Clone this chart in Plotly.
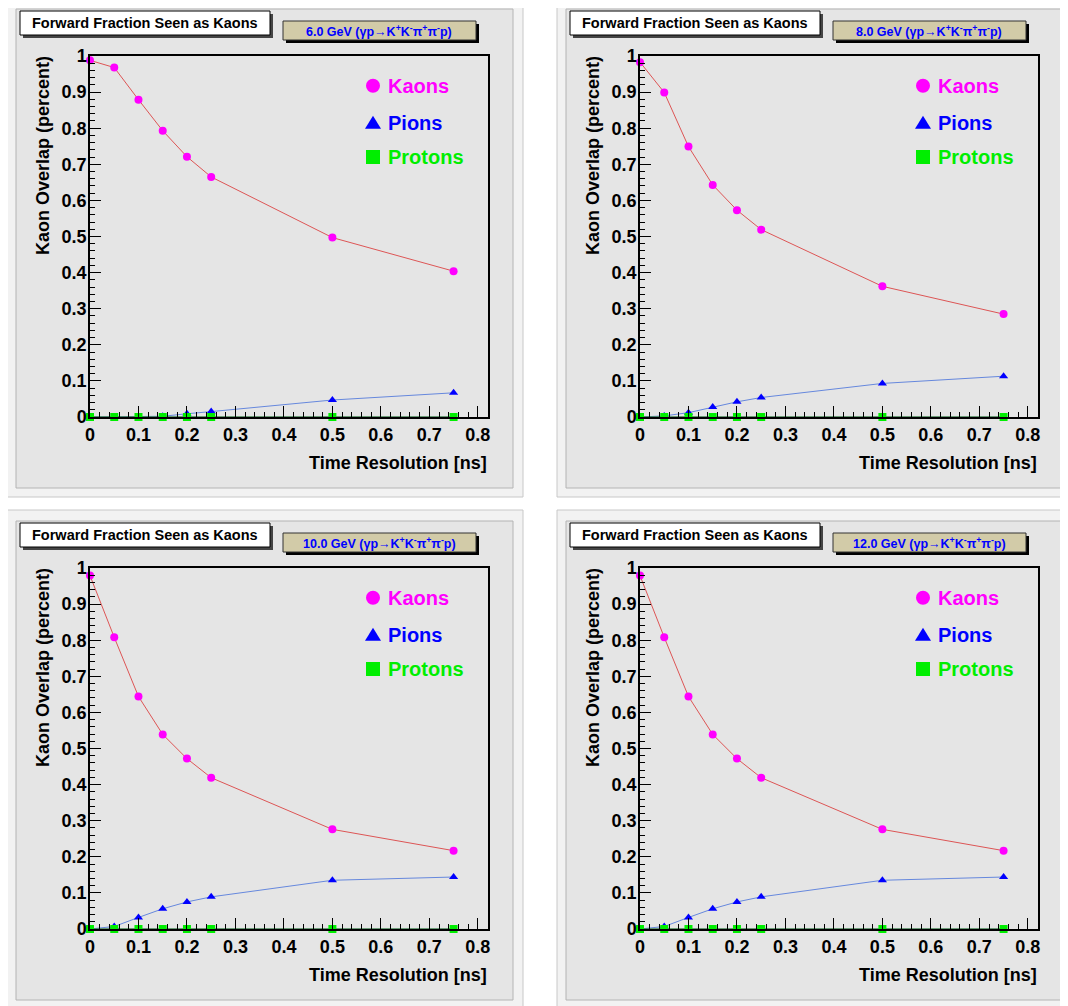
import plotly.graph_objects as go

# ---------------- data ----------------
time_res = [0.0, 0.05, 0.1, 0.15, 0.2, 0.25, 0.5, 0.75]

energies = ["6.0", "8.0", "10.0", "12.0"]

kaons_6 = [0.988, 0.968, 0.879, 0.793, 0.721, 0.665, 0.497, 0.404]
pions_6 = [0.0, 0.0, 0.0, 0.002, 0.009, 0.015, 0.047, 0.067]
protons_6 = [0, 0, 0, 0, 0, 0, 0, 0]

kaons_8 = [0.983, 0.899, 0.749, 0.643, 0.573, 0.519, 0.362, 0.285]
pions_8 = [0.0, 0.003, 0.012, 0.028, 0.042, 0.054, 0.093, 0.113]
protons_8 = [0, 0, 0, 0, 0, 0, 0, 0]

kaons_10 = [0.979, 0.808, 0.644, 0.539, 0.472, 0.419, 0.276, 0.217]
pions_10 = [0.0, 0.007, 0.032, 0.056, 0.075, 0.089, 0.135, 0.144]
protons_10 = [0, 0, 0, 0, 0, 0, 0, 0]

kaons_12 = [0.979, 0.808, 0.644, 0.539, 0.472, 0.419, 0.276, 0.217]
pions_12 = [0.0, 0.007, 0.032, 0.056, 0.075, 0.089, 0.135, 0.144]
protons_12 = [0, 0, 0, 0, 0, 0, 0, 0]

series = [
    (kaons_6, pions_6, protons_6),
    (kaons_8, pions_8, protons_8),
    (kaons_10, pions_10, protons_10),
    (kaons_12, pions_12, protons_12),
]

legend_names = ["Kaons", "Pions", "Protons"]
title_text = "Forward Fraction Seen as Kaons"
x_title = "Time Resolution [ns]"
y_title = "Kaon Overlap (percent)"

# ---------------- styling ----------------
W, H = 1068, 1006
OFF = 8  # page body margin of the html page
FONT = "Liberation Sans"
KAON_C, PION_C, PROT_C = "#ff00ff", "#0000ff", "#00ee00"
KAON_L, PION_L, PROT_L = "#dd5555", "#6688dd", "#3f7f4f"
OUTER_BG, INNER_BG = "#f2f2f2", "#e5e5e5"


def px(x):
    return (x - OFF) / W


def py(y):
    return 1 - (y - OFF) / H


fig = go.Figure()
shapes = []
annotations = []

for k in range(4):
    row, col = divmod(k, 2)
    dx, dy = col * 550, row * 512
    n = "" if k == 0 else str(k + 1)
    xa, ya = "x" + n, "y" + n
    kaons, pions, protons = series[k]

    # panel backgrounds
    shapes.append(dict(type="rect", xref="paper", yref="paper", layer="below",
                       x0=px(7 + dx), x1=px(523 + dx), y0=py(497 + dy), y1=py(-2 + dy),
                       fillcolor=OUTER_BG, line=dict(color="#c8c8c8", width=1)))
    shapes.append(dict(type="rect", xref="paper", yref="paper", layer="below",
                       x0=px(16 + dx), x1=px(513 + dx), y0=py(488 + dy), y1=py(9 + dy),
                       fillcolor=INNER_BG, line=dict(color="#b4b4b4", width=1)))

    # traces
    fig.add_trace(go.Scatter(x=time_res, y=kaons, xaxis=xa, yaxis=ya, mode="lines+markers",
                             line=dict(color=KAON_L, width=1),
                             marker=dict(symbol="circle", size=8, color=KAON_C),
                             cliponaxis=False, showlegend=False, name=legend_names[0]))
    fig.add_trace(go.Scatter(x=time_res, y=pions, xaxis=xa, yaxis=ya, mode="lines+markers",
                             line=dict(color=PION_L, width=1),
                             marker=dict(symbol="triangle-up", size=8, color=PION_C),
                             cliponaxis=False, showlegend=False, name=legend_names[1]))
    fig.add_trace(go.Scatter(x=time_res, y=protons, xaxis=xa, yaxis=ya, mode="lines+markers",
                             line=dict(color=PROT_L, width=1.5),
                             marker=dict(symbol="square", size=8, color=PROT_C),
                             cliponaxis=False, showlegend=False, name=legend_names[2]))

    tickfont = dict(family=FONT, size=18, color="black", weight="bold")
    fig.layout["xaxis" + n] = dict(
        domain=[px(90 + dx), px(488 + dx)], anchor=ya, range=[0, 0.821],
        dtick=0.1, tick0=0, ticks="inside", ticklen=11, tickwidth=1, tickcolor="black",
        minor=dict(ticks="inside", ticklen=5, dtick=0.02, tickcolor="black"),
        showline=True, linecolor="black", linewidth=1.5, mirror=True, automargin=False,
        showgrid=False, zeroline=False, tickfont=tickfont, ticklabelstandoff=1)
    fig.layout["yaxis" + n] = dict(
        domain=[py(417 + dy), py(56 + dy)], anchor=xa, range=[0, 1],
        dtick=0.1, tick0=0, ticks="inside", ticklen=11, tickwidth=1, tickcolor="black",
        minor=dict(ticks="inside", ticklen=5, dtick=0.02, tickcolor="black"),
        showline=True, linecolor="black", linewidth=1.5, mirror=True, automargin=False,
        showgrid=False, zeroline=False, tickfont=tickfont, ticklabelstandoff=-2)

    # axis titles
    annotations.append(dict(xref="paper", yref="paper", x=px(489 + dx), y=py(463 + dy),
                            xanchor="right", yanchor="middle", showarrow=False,
                            text=x_title, font=dict(family=FONT, size=18, color="black", weight="bold")))
    annotations.append(dict(xref="paper", yref="paper", x=px(43 + dx), y=py(156 + dy),
                            xanchor="center", yanchor="middle", showarrow=False, textangle=-90,
                            text=y_title, font=dict(family=FONT, size=18, color="black", weight="bold")))

    # title box
    shapes.append(dict(type="rect", xref="paper", yref="paper",
                       x0=px(23 + dx), x1=px(273 + dx), y0=py(38 + dy), y1=py(14 + dy),
                       fillcolor="#444444", line=dict(width=0)))
    shapes.append(dict(type="rect", xref="paper", yref="paper",
                       x0=px(20 + dx), x1=px(270 + dx), y0=py(35 + dy), y1=py(11 + dy),
                       fillcolor="white", line=dict(color="black", width=1)))
    annotations.append(dict(xref="paper", yref="paper", x=px(145 + dx), y=py(23 + dy),
                            xanchor="center", yanchor="middle", showarrow=False,
                            text=title_text, font=dict(family=FONT, size=14.5, color="black", weight="bold")))

    # energy box
    shapes.append(dict(type="rect", xref="paper", yref="paper",
                       x0=px(286 + dx), x1=px(479 + dx), y0=py(43 + dy), y1=py(24 + dy),
                       fillcolor="black", line=dict(width=0)))
    shapes.append(dict(type="rect", xref="paper", yref="paper",
                       x0=px(283 + dx), x1=px(476 + dx), y0=py(40 + dy), y1=py(21 + dy),
                       fillcolor="#d2cba8", line=dict(color="#333333", width=1)))
    e_text = (energies[k] + " GeV (γp→K<sup>+</sup>K<sup>-</sup>π<sup>+</sup>π<sup>-</sup>p)")
    annotations.append(dict(xref="paper", yref="paper", x=px(379 + dx), y=py(31 + dy),
                            xanchor="center", yanchor="middle", showarrow=False,
                            text=e_text, font=dict(family=FONT, size=12.5, color="#0000ff", weight="bold")))

    # legend glyphs and labels
    lx = 373 + dx
    ky, piy, pry = 85.7 + dy, 122.7 + dy, 157 + dy
    shapes.append(dict(type="circle", xref="paper", yref="paper",
                       x0=px(lx - 7), x1=px(lx + 7), y0=py(ky + 7), y1=py(ky - 7),
                       fillcolor=KAON_C, line=dict(width=0)))
    shapes.append(dict(type="path", xref="paper", yref="paper",
                       path=f"M {px(lx - 8)} {py(piy + 6)} L {px(lx + 8)} {py(piy + 6)} L {px(lx)} {py(piy - 7)} Z",
                       fillcolor=PION_C, line=dict(width=0)))
    shapes.append(dict(type="rect", xref="paper", yref="paper",
                       x0=px(lx - 7), x1=px(lx + 7), y0=py(pry + 7), y1=py(pry - 7),
                       fillcolor=PROT_C, line=dict(width=0)))
    for name, yy, c in zip(legend_names, [ky, piy, pry], [KAON_C, PION_C, PROT_C]):
        annotations.append(dict(xref="paper", yref="paper", x=px(386 + dx), y=py(yy),
                                xanchor="left", yanchor="middle", showarrow=False,
                                text=name, font=dict(family=FONT, size=20, color=c, weight="bold")))

fig.update_layout(
    width=W, height=H, margin=dict(l=0, r=0, t=0, b=0, autoexpand=False),
    paper_bgcolor="white", plot_bgcolor=INNER_BG,
    shapes=shapes, annotations=annotations, showlegend=False,
)

fig.write_html("out.html")
